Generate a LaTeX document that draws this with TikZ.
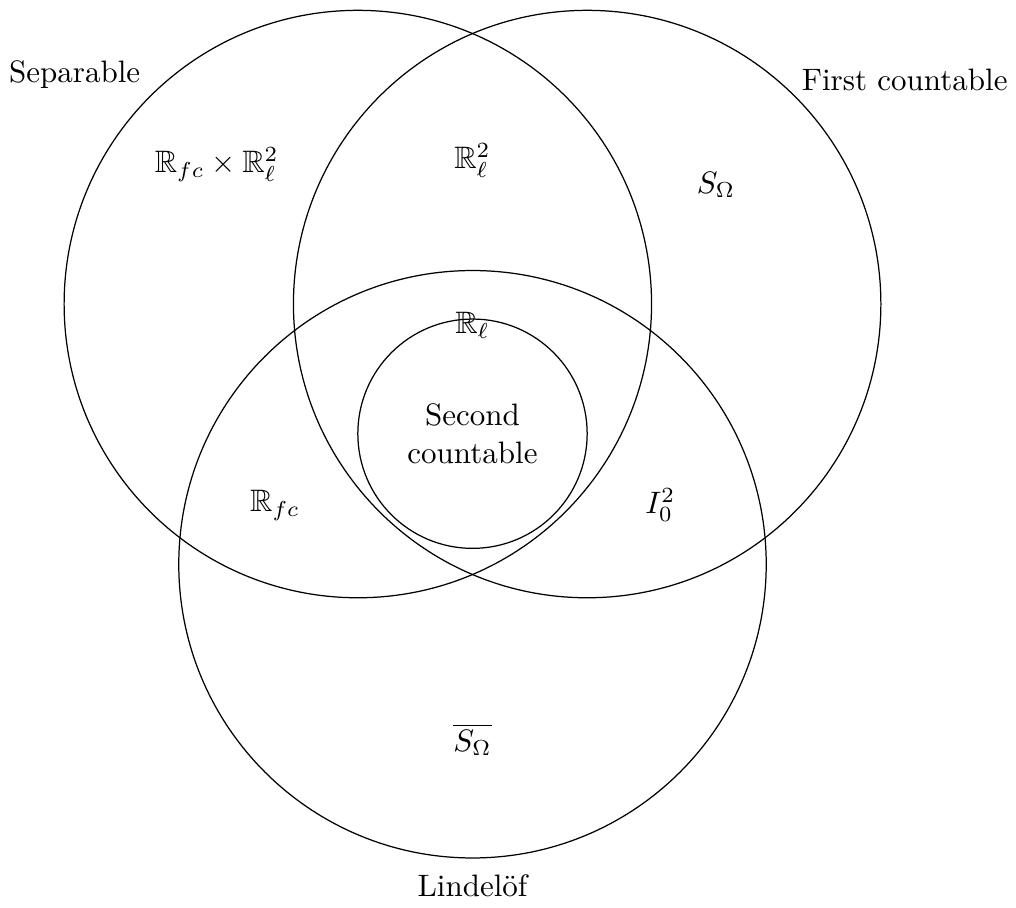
\documentclass[tikz,border=0pt]{standalone}
\usepackage{amsmath,amssymb}
\begin{document}
\begin{tikzpicture}
\tikzstyle{label}=[inner sep=1pt]
\useasboundingbox (-5.357,-6.837) rectangle (6.162,3.447);
\coordinate (sep) at (-1.3,0);
\coordinate (fst) at (1.3,0);
\coordinate (lin) at (0,-2.95);
\coordinate (snd) at (0,-1.47);
\draw (sep) circle(3.33);
\draw (fst) circle(3.33);
\draw (lin) circle(3.33);
\draw (snd) circle(1.3);
\node[label] (sepname) at (-4.51,2.60) {Separable};
\node[label] (fstname) at (4.90,2.54) {First countable};
\node[label] (linname) at (0,-6.59) {Lindel\"of};
\node[label, align=center] (sndname) at (snd) {Second\\countable};
\node[label] (rfcrl) at (-2.90,1.58) {$\mathbb{R}_{fc}\times\mathbb{R}_\ell^2$};
\node[label] (rltwo) at (0,1.63) {$\mathbb{R}_\ell^2$};
\node[label] (somega) at (2.76,1.35) {$S_\Omega$};
\node[label] (rl) at (0,-0.24) {$\mathbb{R}_\ell$};
\node[label] (rfc) at (-2.24,-2.28) {$\mathbb{R}_{fc}$};
\node[label] (izero) at (2.13,-2.28) {$I_0^2$};
\node[label] (sbar) at (0,-4.94) {$\overline{S_\Omega}$};
\end{tikzpicture}
\end{document}
